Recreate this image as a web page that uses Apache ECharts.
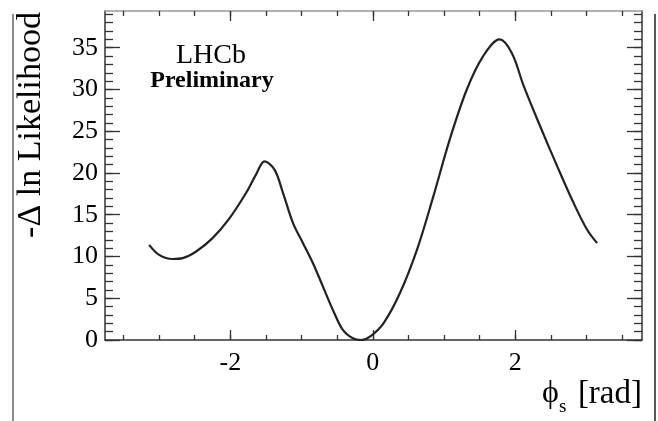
<!DOCTYPE html>
<html>
<head>
    <meta charset="utf-8">
    <style type="text/css">
        html,body { margin: 0px; padding: 0px; height: 100%; background: #fff; }
    </style>
    <script src="https://cdn.jsdelivr.net/npm/echarts@6/dist/echarts.min.js"></script>
</head>
<body>
    <div id="canvas1" style="width: 658px; height: 421px;"></div>

    <script type="text/javascript">
        // phi_s (rad) scan points and -Delta ln L
        var phiS = [-3.14, -3.0, -2.81, -2.67, -2.48, -2.25, -2.01, -1.78, -1.64, -1.52,
                    -1.38, -1.26, -1.12, -0.98, -0.84, -0.70, -0.56, -0.42, -0.28, -0.16,
                    -0.04, 0.15, 0.38, 0.62, 0.85, 1.08, 1.32, 1.55, 1.78, 1.95,
                    2.12, 2.35, 2.59, 2.82, 3.01, 3.15];
        var dLnL = [11.4, 10.2, 9.7, 9.8, 10.6, 12.2, 14.6, 17.6, 19.8, 21.4,
                    20.4, 17.6, 14.0, 11.6, 9.2, 6.4, 3.6, 1.2, 0.2, 0.0,
                    0.4, 2.0, 5.6, 10.8, 17.2, 24.0, 30.0, 34.0, 36.0, 34.4,
                    30.4, 25.6, 20.8, 16.4, 13.2, 11.6];

        var xMajor = [-2, 0, 2];
        var yMajor = [0, 5, 10, 15, 20, 25, 30, 35];
        var xMin = -3.76, xMax = 3.78;
        var yMin = 0, yMax = 39.4;

        var xMinor = [];
        for (var v = -3.5; v <= 3.5; v += 0.5) xMinor.push(v);
        var yMinor = [];
        for (var k = 0; k <= 39; k++) yMinor.push(k);

        var serif = 'Liberation Serif';
        var myChart1 = echarts.init(document.getElementById("canvas1"));

        function xAx(pos, ticks, len, label, line, lineColor) {
            return {
                type: 'value', position: pos, min: xMin, max: xMax,
                axisLine: { show: line, onZero: false, lineStyle: { color: lineColor, width: 1.5 } },
                axisTick: { show: true, inside: true, length: len, customValues: ticks,
                            lineStyle: { color: '#333', width: 1.3 } },
                axisLabel: { show: label, customValues: xMajor, margin: 10,
                             fontFamily: serif, fontSize: 26, color: '#000' },
                splitLine: { show: false }
            };
        }
        function yAx(pos, ticks, len, label, line) {
            return {
                type: 'value', position: pos, min: yMin, max: yMax,
                axisLine: { show: line, onZero: false, lineStyle: { color: '#333', width: 1.5 } },
                axisTick: { show: true, inside: true, length: len, customValues: ticks,
                            lineStyle: { color: '#333', width: 1.3 } },
                axisLabel: { show: label, customValues: yMajor, margin: 7,
                             fontFamily: serif, fontSize: 26, color: '#000' },
                splitLine: { show: false }
            };
        }

        var option1 = {
            animation: false,
            grid: { left: 105, right: 16, top: 11, bottom: 81 },
            xAxis: [
                xAx('bottom', xMajor, 10, true, true, '#333'),
                xAx('bottom', xMinor, 5, false, false, '#333'),
                xAx('top', xMajor, 10, false, true, '#999'),
                xAx('top', xMinor, 5, false, false, '#999')
            ],
            yAxis: [
                yAx('left', yMajor, 15, true, true),
                yAx('left', yMinor, 8, false, false),
                yAx('right', yMajor, 15, false, true),
                yAx('right', yMinor, 8, false, false)
            ],
            series: [{
                type: 'line',
                xAxisIndex: 0, yAxisIndex: 0,
                data: phiS.map(function (p, i) { return [p, dLnL[i]]; }),
                smooth: 0.35,
                showSymbol: false,
                lineStyle: { color: '#222', width: 2.2 }
            }],
            graphic: [
                { type: 'line', shape: { x1: 13, y1: 14, x2: 13, y2: 421 },
                  style: { stroke: '#666', lineWidth: 1.5 } },
                { type: 'line', shape: { x1: 655, y1: 14, x2: 655, y2: 421 },
                  style: { stroke: '#222', lineWidth: 1.5 } },
                { type: 'text', x: 31, y: 125, rotation: Math.PI / 2,
                  style: { text: '-\u0394 ln Likelihood', font: '34px "Liberation Serif"', fill: '#000',
                           textAlign: 'center', textVerticalAlign: 'middle' } },
                { type: 'text', x: 211, y: 56,
                  style: { text: 'LHCb', font: '28px "Liberation Serif"', fill: '#000',
                           textAlign: 'center', textVerticalAlign: 'middle' } },
                { type: 'text', x: 212, y: 81,
                  style: { text: 'Preliminary', font: 'bold 24px "Liberation Serif"', fill: '#000',
                           textAlign: 'center', textVerticalAlign: 'middle' } },
                { type: 'text', x: 542, y: 394,
                  style: { text: '\u03d5', font: '32px "Liberation Serif"', fill: '#000',
                           textAlign: 'left', textVerticalAlign: 'middle' } },
                { type: 'text', x: 559, y: 407,
                  style: { text: 's', font: '19px "Liberation Serif"', fill: '#000',
                           textAlign: 'left', textVerticalAlign: 'middle' } },
                { type: 'text', x: 642, y: 394,
                  style: { text: '[rad]', font: '33px "Liberation Serif"', fill: '#000',
                           textAlign: 'right', textVerticalAlign: 'middle' } }
            ]
        };

        myChart1.setOption(option1);
    </script>
</body>
</html>
